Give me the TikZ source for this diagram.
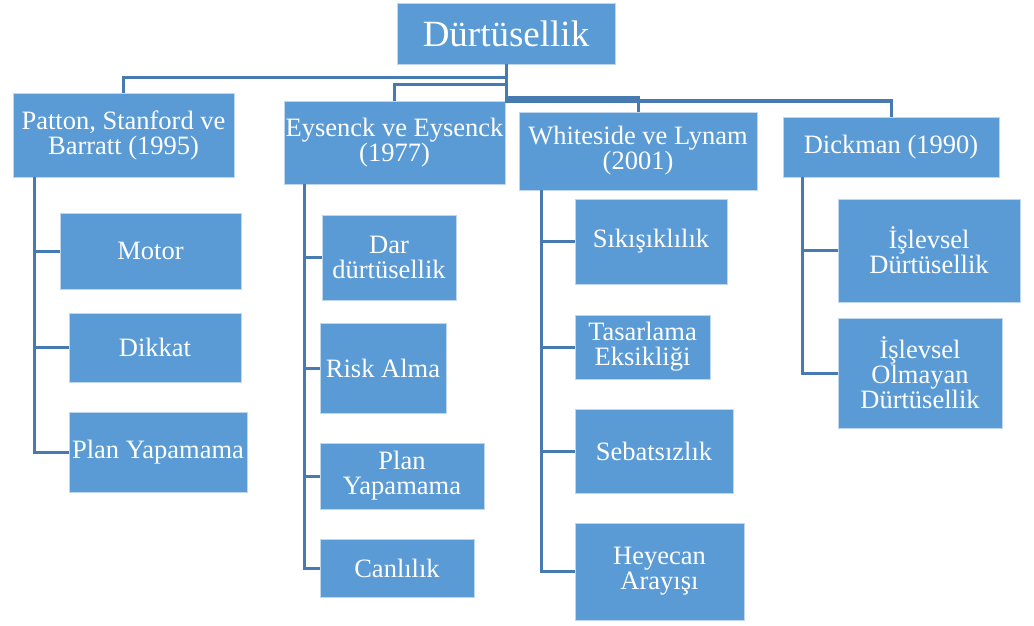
\documentclass[tikz,border=0pt]{standalone}
\usepackage{fontspec}
\setmainfont{Liberation Serif}
\definecolor{boxblue}{RGB}{91,155,213}
\definecolor{linblue}{RGB}{72,122,178}
\definecolor{edgeblue}{RGB}{190,214,238}
\tikzset{
  box/.style={rectangle, fill=boxblue, draw=edgeblue, line width=0.6pt, inner sep=0pt,
    text=white, align=center, font=\fontsize{26.5}{25}\selectfont},
  conn/.style={draw=linblue, line width=3pt}
}
\newcommand{\bbox}[7][]{\node[box,#1, minimum width={(#4-#3)*1pt}, minimum height={(#6-#5)*1pt}] (#2) at ({(#3+#4)/2},{(#5+#6)/2}) {#7};}
\begin{document}
\begin{tikzpicture}[x=1pt,y=-1pt]
\useasboundingbox[fill=white] (0,0) rectangle (1034,626);
% root
\bbox[font=\fontsize{37}{40}\selectfont]{root}{397}{615}{3}{64}{Dürtüsellik}
% level 1
\bbox{pat}{13}{234}{93}{177}{Patton, Stanford ve\\Barratt (1995)}
\bbox{eys}{284}{505}{101}{184}{Eysenck ve Eysenck\\(1977)}
\bbox{whi}{519}{757}{112}{190}{Whiteside ve Lynam\\(2001)}
\bbox{dic}{783}{999}{117}{177}{Dickman (1990)}
% column 1
\bbox{motor}{60}{241}{213}{289}{Motor}
\bbox{dikkat}{69}{241}{313}{382}{Dikkat}
\bbox{planA}{69}{247}{412}{492}{Plan Yapamama}
% column 2
\bbox{dar}{322}{456}{215}{300}{Dar\\dürtüsellik}
\bbox{risk}{320}{446}{323}{413}{Risk Alma}
\bbox{planB}{320}{484}{443}{509}{Plan\\Yapamama}
\bbox{canli}{320}{474}{539}{597}{Canlılık}
% column 3
\bbox{sik}{575}{727}{199}{284}{Sıkışıklılık}
\bbox{tas}{575}{710}{315}{379}{Tasarlama\\Eksikliği}
\bbox{seb}{575}{733}{409}{493}{Sebatsızlık}
\bbox{hey}{575}{744}{523}{620}{Heyecan\\Arayışı}
% column 4
\bbox{islA}{838}{1020}{199}{302}{İşlevsel\\Dürtüsellik}
\bbox{islB}{838}{1002}{318}{428}{İşlevsel\\Olmayan\\Dürtüsellik}
% top connectors
\coordinate (j1) at (506,78);
\coordinate (j2) at (506,85);
\coordinate (j3) at (506,98);
\coordinate (j4) at (506,101);
\draw[conn] (root.south) -- (j1) -| (pat.north);
\draw[conn] (root.south) -- (j2) -| (eys.north);
\draw[conn] (root.south) -- (j3) -| (whi.north);
\draw[conn] (root.south) -- (j4) -| (dic.north);
% column connectors
\foreach \c in {motor,dikkat,planA}
  \draw[conn] ([xshift=22pt]pat.south west) |- (\c.west);
\foreach \c in {dar,risk,planB,canli}
  \draw[conn] ([xshift=21pt]eys.south west) |- (\c.west);
\foreach \c in {sik,tas,seb,hey}
  \draw[conn] ([xshift=23pt]whi.south west) |- (\c.west);
\foreach \c in {islA,islB}
  \draw[conn] ([xshift=20pt]dic.south west) |- (\c.west);
\end{tikzpicture}
\end{document}
